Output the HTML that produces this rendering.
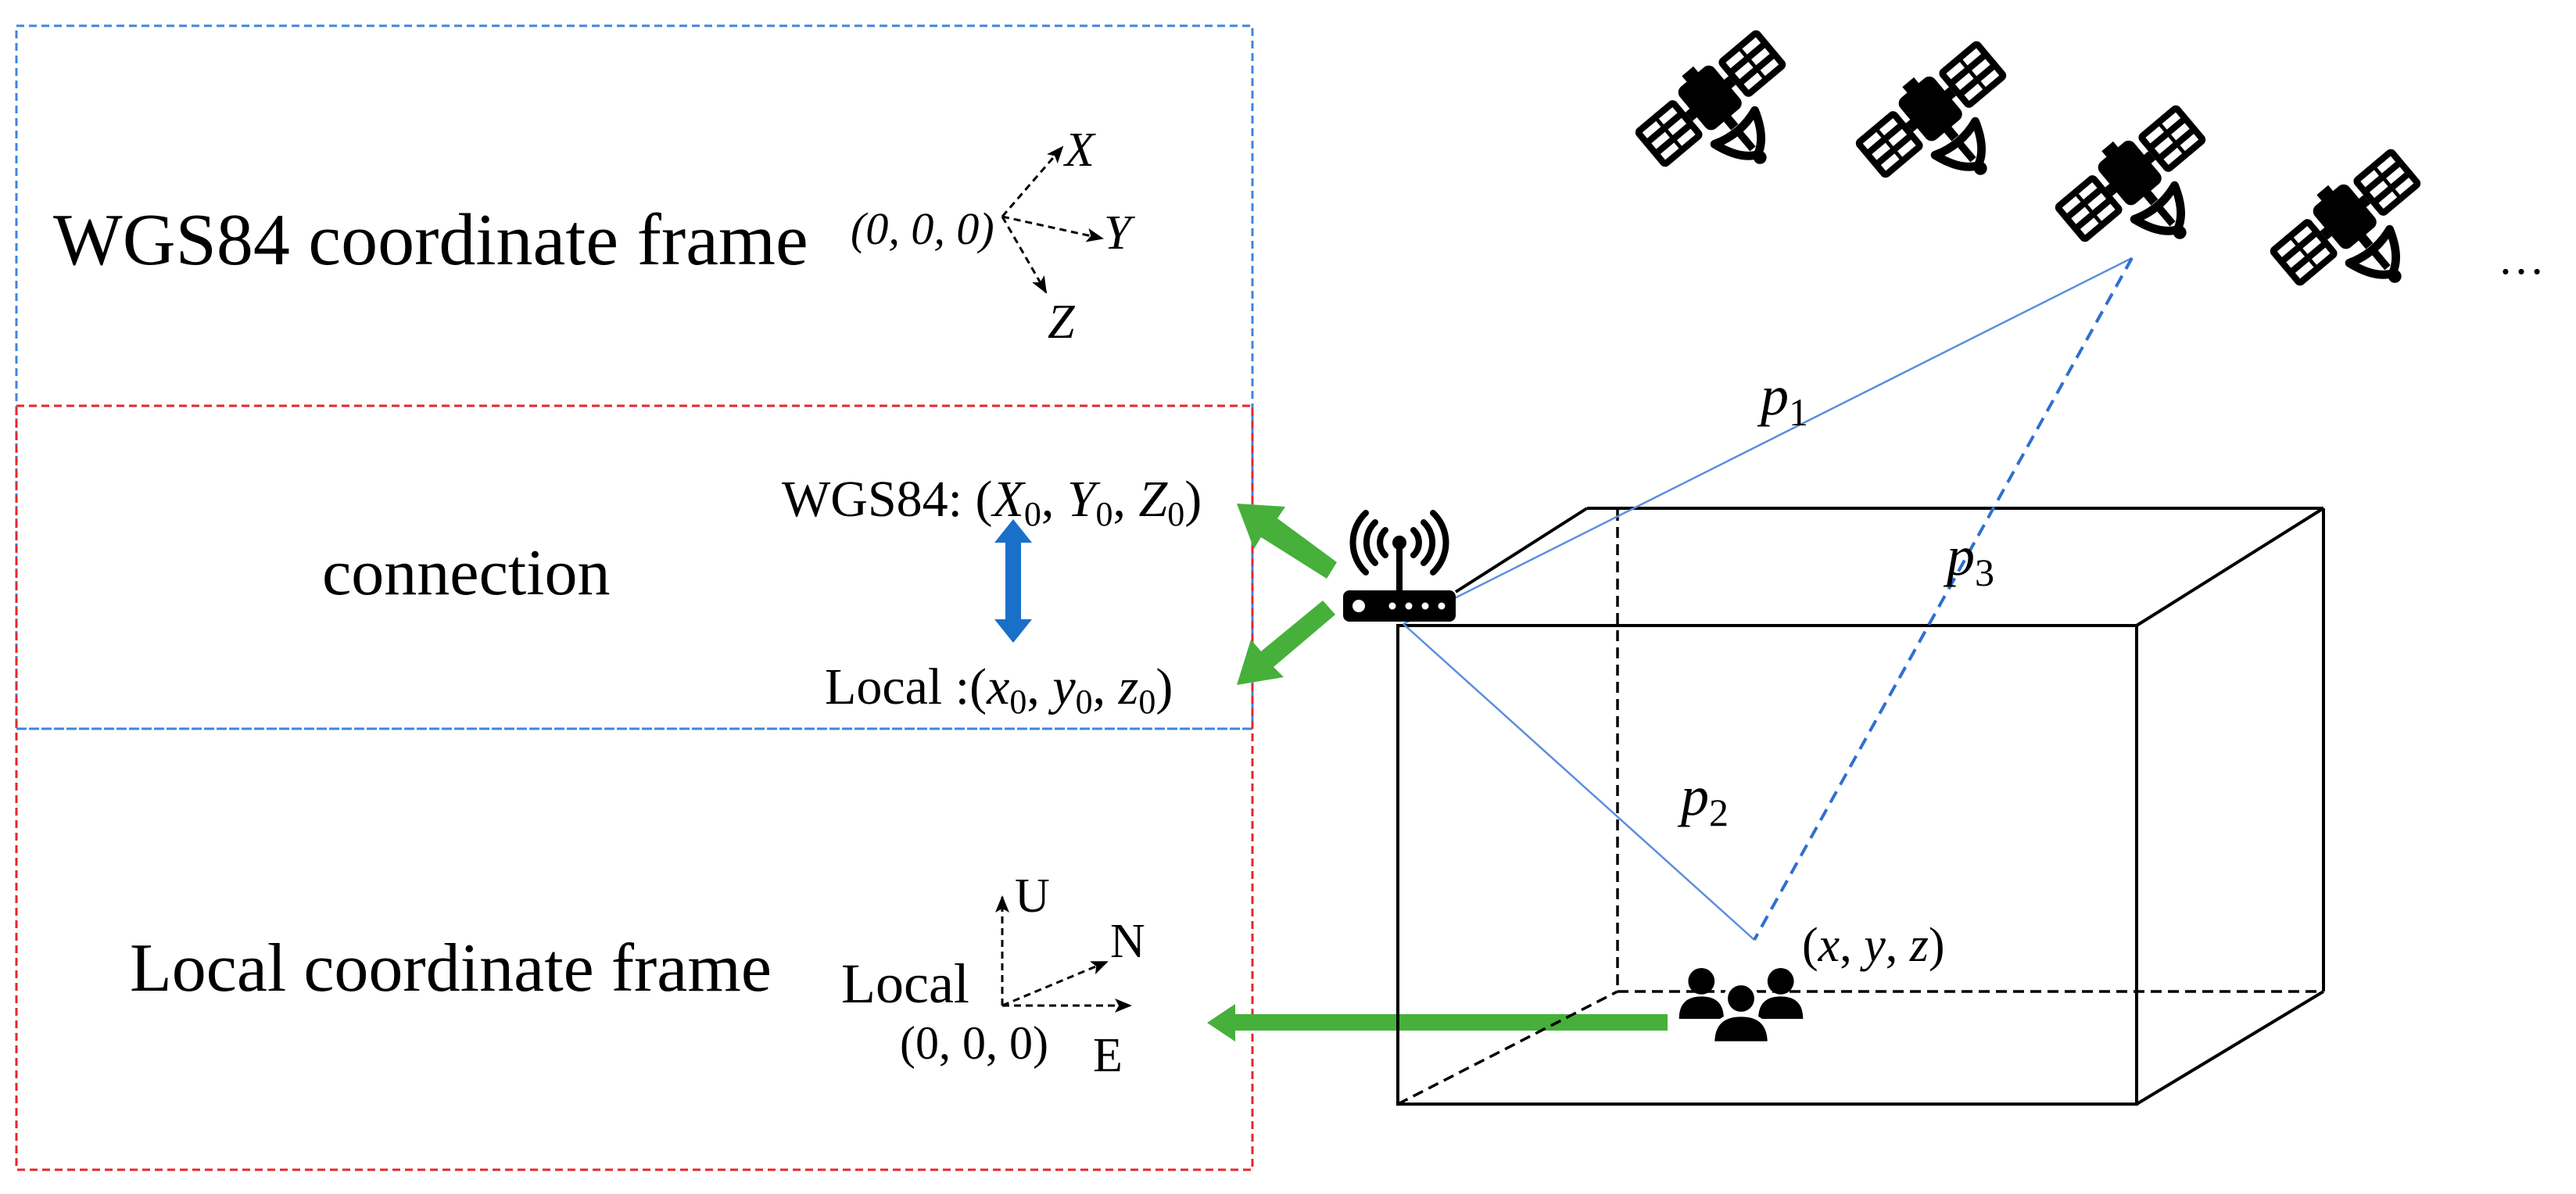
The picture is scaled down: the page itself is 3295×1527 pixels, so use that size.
<!DOCTYPE html>
<html><head><meta charset="utf-8"><style>
html,body{margin:0;padding:0;background:#fff;}
svg{display:block;}
text{font-family:"Liberation Serif",serif;fill:#000;}
</style></head><body>
<svg width="3295" height="1527" viewBox="0 0 3295 1527" xmlns="http://www.w3.org/2000/svg">
<defs>
<marker id="ahb" markerWidth="22" markerHeight="18" refX="20" refY="9" orient="auto" markerUnits="userSpaceOnUse">
<path d="M0,0 L22,9 L0,18 L5,9 Z" fill="#000"/>
</marker>
<g id="sat">
 <g transform="rotate(-40) scale(1.2)">
  <rect x="-86" y="-26" width="56" height="52" rx="6" fill="#000"/>
  <rect x="30" y="-26" width="56" height="52" rx="6" fill="#000"/>
  <g fill="#fff">
   <rect x="-79" y="-19" width="19" height="8"/><rect x="-56" y="-19" width="19" height="8"/>
   <rect x="-79" y="-4" width="19" height="8"/><rect x="-56" y="-4" width="19" height="8"/>
   <rect x="-79" y="11" width="19" height="8"/><rect x="-56" y="11" width="19" height="8"/>
   <rect x="37" y="-19" width="19" height="8"/><rect x="60" y="-19" width="19" height="8"/>
   <rect x="37" y="-4" width="19" height="8"/><rect x="60" y="-4" width="19" height="8"/>
   <rect x="37" y="11" width="19" height="8"/><rect x="60" y="11" width="19" height="8"/>
  </g>
  <rect x="-30" y="-6" width="60" height="12" fill="#000"/>
  <rect x="-24" y="-30" width="48" height="58" rx="8" fill="#000"/>
  <rect x="-8" y="-38" width="16" height="10" fill="#000"/>
  <rect x="-5" y="26" width="10" height="14" fill="#000"/>
  <path d="M-28,40 Q0,50 28,40 Q18,70 0,78 Q-18,70 -28,40 Z" fill="none" stroke="#000" stroke-width="9" stroke-linejoin="round"/>
  <path d="M0,45 L0,70" stroke="#000" stroke-width="8"/>
  <circle cx="0" cy="82" r="7" fill="#000"/>
 </g>
</g>
</defs>

<!-- left boxes -->
<rect x="21" y="33" width="1581" height="899" fill="none" stroke="#3d85e0" stroke-width="3" stroke-dasharray="10,6"/>
<rect x="21" y="519" width="1581" height="977" fill="none" stroke="#e8262a" stroke-width="3" stroke-dasharray="10,6"/>
<line x1="21" y1="932" x2="1602" y2="932" stroke="#3d85e0" stroke-width="3" stroke-dasharray="10,6"/>

<text x="68" y="338" font-size="94">WGS84 coordinate frame</text>
<text x="1088" y="312" font-size="58" font-style="italic">(0, 0, 0)</text>
<g stroke="#000" stroke-width="3" stroke-dasharray="9,6" fill="none">
<line x1="1282" y1="277" x2="1359" y2="188" marker-end="url(#ahb)"/>
<line x1="1282" y1="277" x2="1410" y2="305" marker-end="url(#ahb)"/>
<line x1="1282" y1="277" x2="1338" y2="374" marker-end="url(#ahb)"/>
</g>
<text x="1362" y="212" font-size="62" font-style="italic">X</text>
<text x="1412" y="318" font-size="62" font-style="italic">Y</text>
<text x="1340" y="432" font-size="62" font-style="italic">Z</text>

<text x="412" y="760" font-size="84">connection</text>
<text x="1000" y="660" font-size="66">WGS84: (<tspan font-style="italic">X</tspan><tspan font-size="44" dy="12">0</tspan><tspan dy="-12">, </tspan><tspan font-style="italic">Y</tspan><tspan font-size="44" dy="12">0</tspan><tspan dy="-12">, </tspan><tspan font-style="italic">Z</tspan><tspan font-size="44" dy="12">0</tspan><tspan dy="-12">)</tspan></text>
<text x="1055" y="900" font-size="66">Local :(<tspan font-style="italic">x</tspan><tspan font-size="44" dy="12">0</tspan><tspan dy="-12">, </tspan><tspan font-style="italic">y</tspan><tspan font-size="44" dy="12">0</tspan><tspan dy="-12">, </tspan><tspan font-style="italic">z</tspan><tspan font-size="44" dy="12">0</tspan><tspan dy="-12">)</tspan></text>
<!-- blue double arrow -->
<path d="M1296,664 L1320,694 L1306,694 L1306,792 L1320,792 L1296,822 L1272,792 L1286,792 L1286,694 L1272,694 Z" fill="#1a6fc9"/>

<text x="166" y="1267" font-size="88">Local coordinate frame</text>
<text x="1076" y="1282" font-size="72">Local</text>
<text x="1151" y="1354" font-size="60">(0, 0, 0)</text>
<g stroke="#000" stroke-width="3" stroke-dasharray="9,6" fill="none">
<line x1="1282" y1="1286" x2="1282" y2="1147" marker-end="url(#ahb)"/>
<line x1="1282" y1="1286" x2="1416" y2="1230" marker-end="url(#ahb)"/>
<line x1="1282" y1="1286" x2="1446" y2="1286" marker-end="url(#ahb)"/>
</g>
<text x="1298" y="1166" font-size="62">U</text>
<text x="1420" y="1224" font-size="62">N</text>
<text x="1398" y="1370" font-size="62">E</text>

<!-- green arrows -->
<g fill="#46b03a">
<path d="M1710,719 L1697,740 L1613,687 L1604,702 L1582,644 L1644,648 L1634,663 Z"/>
<path d="M1692,768 L1708,786 L1629,853 L1642,866 L1582,876 L1600,818 L1613,833 Z"/>
<path d="M2133,1297 L2133,1318 L1580,1318 L1580,1332 L1544,1308 L1580,1284 L1580,1297 Z"/>
</g>

<!-- box -->
<g stroke="#000" stroke-width="4" fill="none">
<rect x="1788" y="800" width="945" height="612"/>
<line x1="1862" y1="757" x2="2030" y2="650"/>
<line x1="2030" y1="650" x2="2972" y2="650"/>
<line x1="2972" y1="650" x2="2972" y2="1268"/>
<line x1="2733" y1="800" x2="2972" y2="650"/>
<line x1="2733" y1="1412" x2="2972" y2="1268"/>
</g>
<g stroke="#000" stroke-width="3.5" fill="none" stroke-dasharray="14,8">
<line x1="2069" y1="652" x2="2069" y2="1268"/>
<line x1="2069" y1="1268" x2="2972" y2="1268"/>
<line x1="1788" y1="1412" x2="2069" y2="1268"/>
</g>

<!-- signal lines -->
<line x1="1795" y1="798" x2="2727" y2="330" stroke="#5b8fdc" stroke-width="2.5"/>
<line x1="1795" y1="798" x2="2244" y2="1202" stroke="#5b8fdc" stroke-width="2.5"/>
<line x1="2727" y1="330" x2="2244" y2="1202" stroke="#2f6fd0" stroke-width="4" stroke-dasharray="16,10"/>
<text x="2252" y="530" font-size="72" font-style="italic">p<tspan font-style="normal" font-size="50" dy="14">1</tspan></text>
<text x="2150" y="1042" font-size="72" font-style="italic">p<tspan font-style="normal" font-size="50" dy="14">2</tspan></text>
<text x="2490" y="735" font-size="72" font-style="italic">p<tspan font-style="normal" font-size="50" dy="14">3</tspan></text>

<!-- router -->
<rect x="1718" y="755" width="144" height="40" rx="8" fill="#000"/>
<circle cx="1738" cy="775" r="8" fill="#fff"/>
<circle cx="1781" cy="775" r="4.5" fill="#fff"/><circle cx="1802" cy="775" r="4.5" fill="#fff"/>
<circle cx="1823" cy="775" r="4.5" fill="#fff"/><circle cx="1844" cy="775" r="4.5" fill="#fff"/>
<rect x="1786" y="693" width="8" height="64" fill="#000"/>
<circle cx="1790" cy="694" r="9" fill="#000"/>
<g stroke="#000" stroke-width="8" fill="none" stroke-linecap="round">
<path d="M1772,678 A22,22 0 0 0 1772,710"/><path d="M1808,678 A22,22 0 0 1 1808,710"/>
<path d="M1759,668 A36,36 0 0 0 1759,720"/><path d="M1821,668 A36,36 0 0 1 1821,720"/>
<path d="M1747,656 A52,52 0 0 0 1747,732"/><path d="M1833,656 A52,52 0 0 1 1833,732"/>
</g>

<!-- satellites -->
<use href="#sat" transform="translate(2188,126)"/>
<use href="#sat" transform="translate(2470,140)"/>
<use href="#sat" transform="translate(2725,222)"/>
<use href="#sat" transform="translate(3000,278)"/>
<text x="3195" y="350" font-size="60">…</text>

<!-- people -->
<g fill="#000" transform="translate(2227,1290) scale(1.3) translate(-2228,-1292)">
<circle cx="2189" cy="1265" r="13"/>
<path d="M2167,1302 Q2167,1280 2189,1280 Q2211,1280 2211,1302 Z"/>
<circle cx="2267" cy="1265" r="13"/>
<path d="M2245,1302 Q2245,1280 2267,1280 Q2289,1280 2289,1302 Z"/>
<circle cx="2228" cy="1282" r="15" stroke="#fff" stroke-width="4"/>
<path d="M2200,1326 Q2200,1298 2228,1298 Q2256,1298 2256,1326 Z" stroke="#fff" stroke-width="4"/>
</g>
<text x="2305" y="1229" font-size="62">(<tspan font-style="italic">x</tspan>, <tspan font-style="italic">y</tspan>, <tspan font-style="italic">z</tspan>)</text>
</svg>
</body></html>
